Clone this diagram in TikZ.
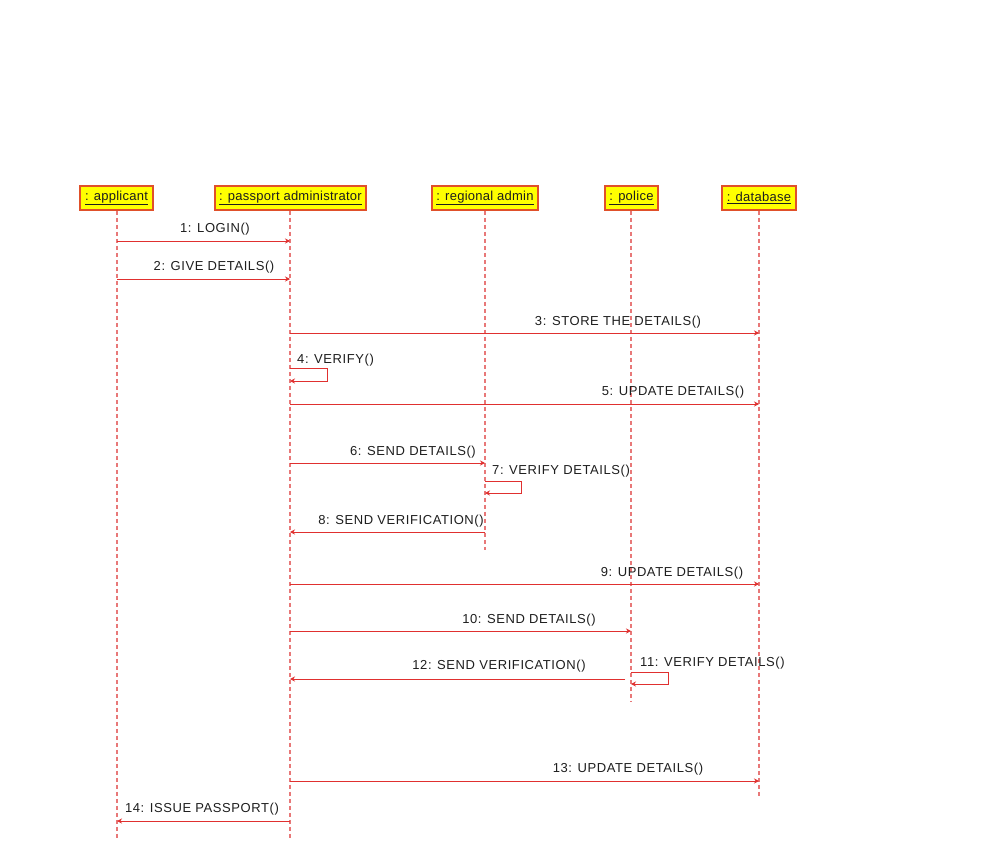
\documentclass[tikz,border=0pt]{standalone}
\usepackage{fontspec}
\setmainfont{Liberation Sans}
\newfontfamily\lblfont[LetterSpace=4.5]{Liberation Sans}
\newfontfamily\hdrfont[LetterSpace=2]{Liberation Sans}
\usetikzlibrary{arrows.meta}
\definecolor{msgred}{HTML}{E0302F}
\definecolor{lifered}{HTML}{E87878}
\definecolor{hdrborder}{HTML}{E0502A}
\definecolor{hdrfill}{HTML}{FFFF00}
\definecolor{txt}{HTML}{1E1E1E}
\begin{document}
\begin{tikzpicture}[x=1pt,y=-1pt,
 hdr/.style={draw=hdrborder, line width=1.6pt, fill=hdrfill, minimum height=24pt, inner sep=0pt, font=\hdrfont\fontsize{13}{15}\selectfont, text=txt},
 life/.style={lifered, line width=1.3pt, dash pattern=on 4pt off 3pt},
 msg/.style={msgred, line width=1pt, -{Stealth[length=5pt,width=5pt]}},
 lbl/.style={font=\lblfont\fontsize{13}{15}\selectfont, text=txt, inner sep=0pt}
]
\useasboundingbox (0,0) rectangle (994,857);
\fill[white] (0,0) rectangle (994,857);
% headers
\node[hdr, minimum width=73pt] (app) at (116.5,198) {\underline{: applicant}};
\node[hdr, minimum width=151pt] (pa) at (290.5,198) {\underline{: passport administrator}};
\node[hdr, minimum width=106pt] (ra) at (485,198) {\underline{: regional admin}};
\node[hdr, minimum width=53pt] (po) at (631.5,198) {\underline{: police}};
\node[hdr, minimum width=74pt] (db) at (759,198) {\underline{: database}};
% lifeline ends
\coordinate (appE) at (117,838);
\coordinate (paE) at (290,838);
\coordinate (raE) at (485,550);
\coordinate (poE) at (631,702);
\coordinate (dbE) at (759,798);
\draw[life] (appE |- app.south) -- (appE);
\draw[life] (paE |- pa.south) -- (paE);
\draw[life] (raE |- ra.south) -- (raE);
\draw[life] (poE |- po.south) -- (poE);
\draw[life] (dbE |- db.south) -- (dbE);
% messages
\draw[msg] (appE |- 0,241) -- (paE |- 0,241);
\node[lbl] (l1) at (215,229) {1: LOGIN()};
\draw[msg] (appE |- 0,279) -- (paE |- 0,279);
\node[lbl] (l2) at (214,267) {2: GIVE DETAILS()};
\draw[msg] (paE |- 0,333) -- (dbE |- 0,333);
\node[lbl] (l3) at (618,322) {3: STORE THE DETAILS()};
\draw[msg] (paE |- 0,368) -- ++(37,0) -- ++(0,13) -- (paE |- 0,381);
\node[lbl, anchor=west] (l4) at (297,360) {4: VERIFY()};
\draw[msg] (paE |- 0,404) -- (dbE |- 0,404);
\node[lbl] (l5) at (673,392) {5: UPDATE DETAILS()};
\draw[msg] (paE |- 0,463) -- (raE |- 0,463);
\node[lbl] (l6) at (413,452) {6: SEND DETAILS()};
\draw[msg] (raE |- 0,481) -- ++(36,0) -- ++(0,12) -- (raE |- 0,493);
\node[lbl, anchor=west] (l7) at (492,471) {7: VERIFY DETAILS()};
\draw[msg] (raE |- 0,532) -- (paE |- 0,532);
\node[lbl] (l8) at (401,521) {8: SEND VERIFICATION()};
\draw[msg] (paE |- 0,584) -- (dbE |- 0,584);
\node[lbl] (l9) at (672,573) {9: UPDATE DETAILS()};
\draw[msg] (paE |- 0,631) -- (poE |- 0,631);
\node[lbl] (l10) at (529,620) {10: SEND DETAILS()};
\draw[msg] (poE |- 0,672) -- ++(37,0) -- ++(0,12) -- (poE |- 0,684);
\node[lbl, anchor=west] (l11) at (640,663) {11: VERIFY DETAILS()};
\coordinate (m12s) at (625,679);
\draw[msg] (m12s) -- (paE |- m12s);
\node[lbl] (l12) at (499,666) {12: SEND VERIFICATION()};
\draw[msg] (paE |- 0,781) -- (dbE |- 0,781);
\node[lbl] (l13) at (628,769) {13: UPDATE DETAILS()};
\draw[msg] (paE |- 0,821) -- (appE |- 0,821);
\node[lbl] (l14) at (202,809) {14: ISSUE PASSPORT()};
\end{tikzpicture}
\end{document}
